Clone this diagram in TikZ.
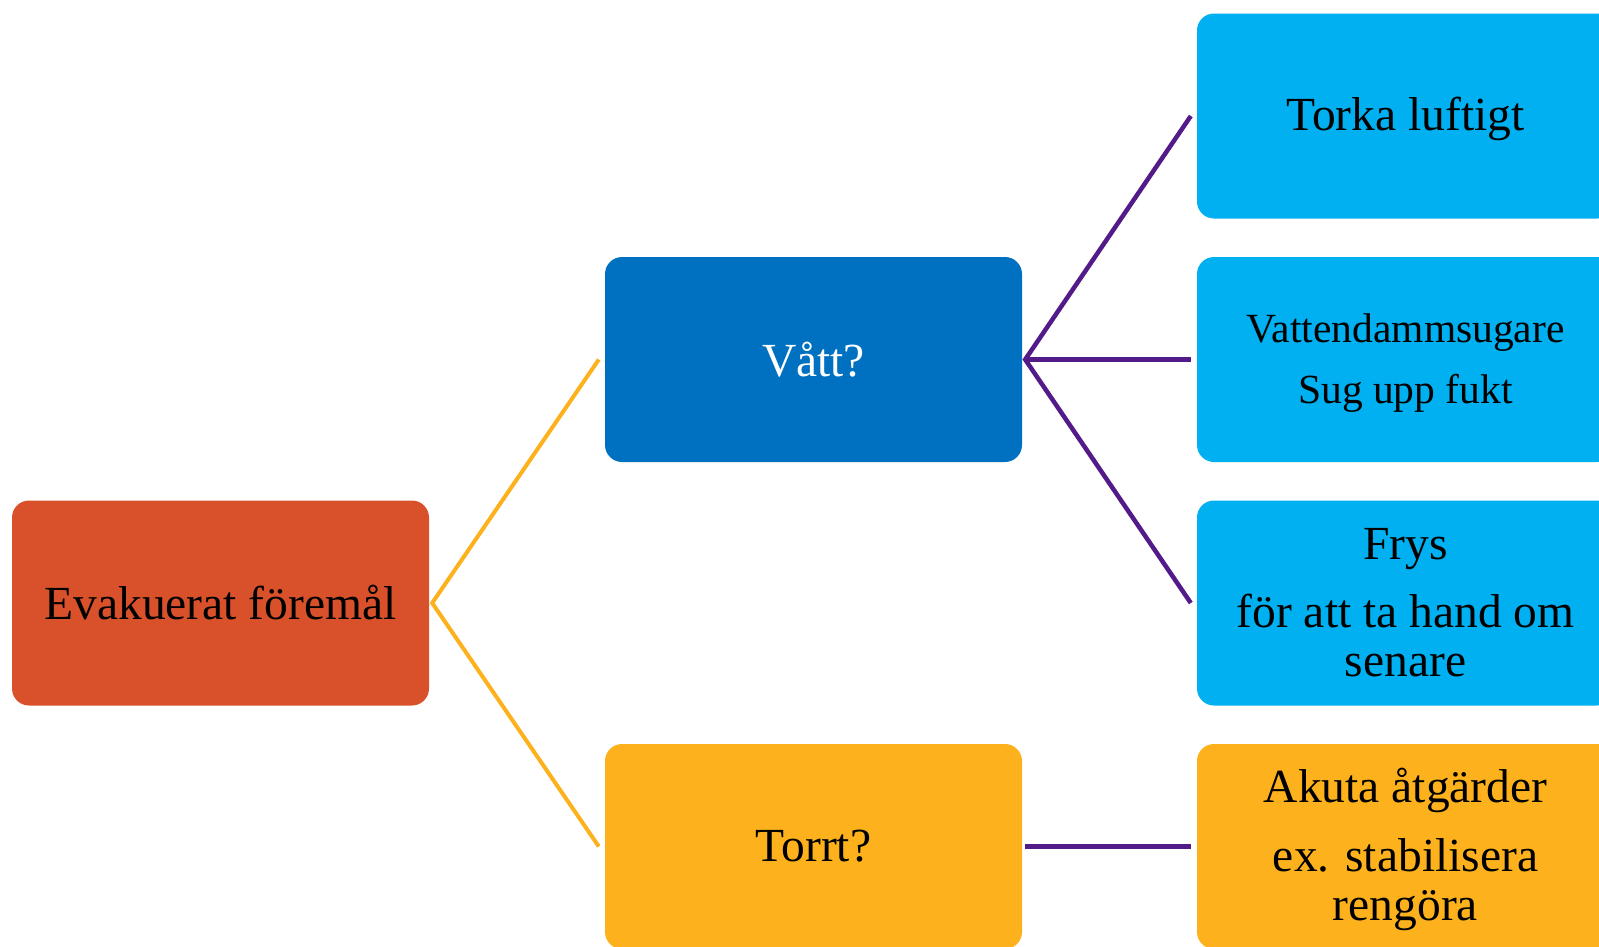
\documentclass[tikz,border=0pt]{standalone}
\usepackage{fontspec}
\setmainfont{Liberation Serif}
\definecolor{rootc}{RGB}{216,81,43}
\definecolor{darkblue}{RGB}{0,113,193}
\definecolor{lightblue}{RGB}{0,176,240}
\definecolor{orangec}{RGB}{253,178,29}
\definecolor{purplec}{RGB}{83,26,138}
\tikzset{
  box/.style={rounded corners=17pt, minimum width=417pt, minimum height=205pt,
    inner sep=0pt, align=center, font=\fontsize{47.5}{49}\selectfont},
  lowtext/.style={label={[align=center, font=\fontsize{47.5}{49}\selectfont, inner sep=0pt, yshift=-3pt]center:#1}},
  lowsmalltext/.style={label={[align=center, font=\fontsize{41.5}{43}\selectfont, inner sep=0pt, yshift=-4pt]center:#1}},
  orangeline/.style={draw=orangec, line width=4pt},
  purpleline/.style={draw=purplec, line width=4.5pt}
}
\begin{document}
\begin{tikzpicture}[x=1pt,y=-1pt]
\useasboundingbox (0,0) rectangle (1599,946);
\clip (0,0) rectangle (1599,946);
\node[box, fill=rootc] (root) at (220.5,603) {Evakuerat föremål};
\node[box, fill=darkblue, text=white] (vatt) at (813.5,359.5) {Vått?};
\node[box, fill=orangec] (torrt) at (813.5,846.5) {Torrt?};
\node[box, fill=lightblue, lowtext={Torka luftigt}] (torka) at (1405.5,116) {};
\node[box, fill=lightblue, lowsmalltext={Vattendammsugare\\[18pt]Sug upp fukt}] (damm) at (1405.5,359.5) {};
\node[box, fill=lightblue] (frys) at (1405.5,603) {Frys\\[19pt]för att ta hand om\\senare};
\node[box, fill=orangec, lowtext={Akuta åtgärder\\[20pt]ex. stabilisera\\rengöra}] (akuta) at (1405.5,846.5) {};
\draw[orangeline] ([xshift=-6pt]vatt.west) -- ([xshift=3pt]root.east) -- ([xshift=-6pt]torrt.west);
\draw[purpleline] ([xshift=-6pt]torka.west) -- ([xshift=3pt]vatt.east) -- ([xshift=-6pt]frys.west);
\draw[purpleline] ([xshift=3pt]vatt.east) -- ([xshift=-6pt]damm.west);
\draw[purpleline] ([xshift=3pt]torrt.east) -- ([xshift=-6pt]akuta.west);
\end{tikzpicture}
\end{document}
